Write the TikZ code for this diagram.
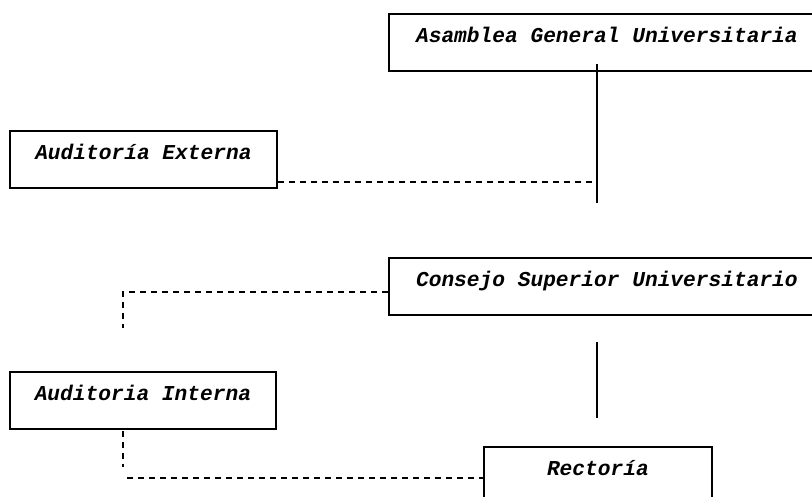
\documentclass[tikz,border=0pt]{standalone}
\usepackage{fontspec}
\setmainfont{Liberation Mono}
\begin{document}
\begin{tikzpicture}[x=1pt,y=-1pt,
  box/.style={draw, line width=1.8pt, rectangle, inner sep=0pt, anchor=north west,
    text height=29pt, text depth=28pt,
    font=\fontsize{21.2}{25}\selectfont\bfseries\itshape},
  solidlink/.style={line width=1.8pt},
  dashlink/.style={line width=1.6pt, dash pattern=on 6pt off 5pt}]
\useasboundingbox (0,0) rectangle (812,496);
\clip (0,0) rectangle (812,496);

\node[box, minimum width=436pt] (agu) at (388,13) {Asamblea General Universitaria};
\node[box, minimum width=267pt] (ext) at (9,130) {Auditoría Externa};
\node[box, minimum width=436pt] (csu) at (388,257) {Consejo Superior Universitario};
\node[box, minimum width=266pt] (int) at (9,371) {Auditoria Interna};
\node[box, minimum width=228pt] (rec) at (483,446) {Rectoría};

% Asamblea trunk
\coordinate (a1) at (597,64);
\coordinate (a2) at (597,203);
\coordinate (a3) at (597,182);
\draw[solidlink] (a1) -- (a2);
\draw[dashlink] (ext.south east |- a3) -- (a3);

% Consejo to left
\coordinate (c0) at (388,292);
\coordinate (c1) at (123,328);
\draw[dashlink] (c0) -| (c1);

% Consejo to Rectoria
\coordinate (s1) at (597,342);
\coordinate (s2) at (597,418);
\draw[solidlink] (s1) -- (s2);

% Interna to Rectoria
\coordinate (i1) at (123,431);
\coordinate (i2) at (123,467);
\coordinate (i3) at (127,478);
\draw[dashlink] (i1) -- (i2);
\draw[dashlink] (i3) -- (rec.west |- i3);
\end{tikzpicture}
\end{document}
